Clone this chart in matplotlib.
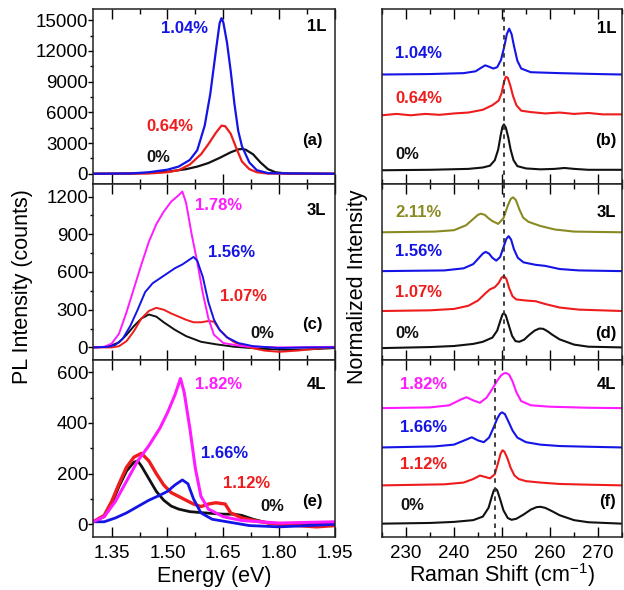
import numpy as np
import matplotlib
matplotlib.use('Agg')
import matplotlib.pyplot as plt
from matplotlib.ticker import MultipleLocator

plt.rcParams['font.family'] = ['Liberation Sans', 'DejaVu Sans']

BLUE = '#1414e6'
RED = '#ee1c1c'
BLACK = '#111111'
MAG = '#ff1aff'
OLIVE = '#8a8a22'

# ---------------- PL data (energy eV, counts) ----------------
# (a) 1L
a0_e = [1.30, 1.40, 1.45, 1.50, 1.55, 1.58, 1.61, 1.64, 1.67, 1.69, 1.70, 1.71, 1.73, 1.75, 1.77, 1.79, 1.82, 1.95]
a0_i = [0, 20, 80, 200, 450, 700, 1050, 1550, 2100, 2380, 2420, 2350, 1900, 1100, 450, 150, 20, 0]
a1_e = [1.30, 1.45, 1.50, 1.53, 1.56, 1.59, 1.61, 1.63, 1.645, 1.655, 1.67, 1.685, 1.70, 1.72, 1.74, 1.77, 1.95]
a1_i = [0, 30, 150, 350, 900, 1900, 2900, 4000, 4700, 4650, 3900, 2500, 1200, 450, 150, 20, 0]
a2_e = [1.30, 1.40, 1.45, 1.50, 1.53, 1.56, 1.58, 1.60, 1.615, 1.63, 1.64, 1.645, 1.65, 1.66, 1.67,
        1.68, 1.69, 1.70, 1.72, 1.74, 1.77, 1.95]
a2_i = [0, 30, 150, 400, 700, 1350, 2300, 4700, 7800, 12000, 14700, 15200, 14800, 12800, 10000,
        6800, 4200, 2700, 1100, 350, 60, 0]

# (c) 3L
c0_e = [1.30, 1.34, 1.37, 1.39, 1.41, 1.43, 1.45, 1.47, 1.49, 1.52, 1.55, 1.59, 1.63, 1.68, 1.75, 1.82, 1.88, 1.95]
c0_i = [0, 5, 40, 100, 170, 230, 262, 245, 200, 140, 90, 45, 25, 5, -10, -20, -15, -5]
c1_e = [1.30, 1.35, 1.37, 1.39, 1.41, 1.43, 1.45, 1.47, 1.49, 1.51, 1.53, 1.55, 1.57, 1.59, 1.61,
        1.625, 1.64, 1.66, 1.68, 1.72, 1.76, 1.80, 1.85, 1.90, 1.95]
c1_i = [0, 0, 10, 50, 130, 230, 290, 315, 300, 270, 245, 220, 200, 200, 210,
        205, 140, 80, 40, 0, -25, -35, -25, -10, 0]
c2_e = [1.30, 1.34, 1.36, 1.38, 1.40, 1.42, 1.44, 1.46, 1.48, 1.50, 1.52, 1.54, 1.56, 1.57, 1.58,
        1.595, 1.61, 1.625, 1.64, 1.66, 1.69, 1.73, 1.80, 1.88, 1.95]
c2_i = [0, 5, 20, 70, 170, 300, 440, 510, 550, 590, 630, 660, 700, 720, 690,
        560, 360, 220, 140, 80, 35, 10, -5, 0, 0]
c3_e = [1.30, 1.33, 1.35, 1.37, 1.39, 1.41, 1.43, 1.45, 1.47, 1.49, 1.51, 1.53, 1.54, 1.55, 1.565,
        1.58, 1.595, 1.61, 1.625, 1.65, 1.70, 1.80, 1.95]
c3_i = [0, 5, 30, 110, 280, 470, 660, 840, 980, 1080, 1160, 1210, 1240, 1150, 900,
        680, 430, 230, 100, 35, 10, 0, 5]

# (e) 4L
e0_e = [1.30, 1.33, 1.35, 1.37, 1.39, 1.41, 1.42, 1.43, 1.45, 1.47, 1.49, 1.51, 1.53, 1.56, 1.60,
        1.65, 1.68, 1.70, 1.73, 1.77, 1.85, 1.95]
e0_i = [10, 30, 80, 150, 210, 245, 250, 230, 180, 130, 95, 72, 60, 50, 45,
        40, 40, 35, 20, 5, 0, 0]
e1_e = [1.30, 1.33, 1.35, 1.37, 1.39, 1.41, 1.43, 1.45, 1.47, 1.49, 1.51, 1.53, 1.55, 1.57, 1.59,
        1.61, 1.63, 1.655, 1.67, 1.70, 1.75, 1.80, 1.90, 1.95]
e1_i = [10, 35, 90, 160, 225, 265, 280, 250, 200, 155, 125, 110, 95, 80, 70,
        80, 85, 80, 45, 25, 10, 0, -10, -5]
e2_e = [1.30, 1.33, 1.36, 1.39, 1.42, 1.45, 1.48, 1.50, 1.52, 1.54, 1.555, 1.57, 1.59, 1.62, 1.66,
        1.72, 1.80, 1.88, 1.95]
e2_i = [10, 10, 25, 45, 70, 95, 115, 130, 155, 175, 160, 100, 45, 20, 10,
        -5, -10, -5, 0]
e3_e = [1.30, 1.33, 1.36, 1.39, 1.42, 1.45, 1.48, 1.50, 1.52, 1.535, 1.545, 1.56, 1.575, 1.59, 1.61,
        1.65, 1.70, 1.80, 1.95]
e3_i = [10, 30, 90, 170, 250, 310, 380, 440, 510, 575, 520, 380, 220, 110, 60,
        30, 15, 5, 10]

# ---------------- Raman data (shift cm-1, normalized) ----------------
b0_x = [225, 235, 243, 246, 247.5, 248.5, 249.2, 249.7, 250.1, 250.4, 250.8, 251.3, 251.8, 252.4,
        253.2, 255, 258, 261, 263, 265, 268, 275]
b0_y = [0, 0.01, 0.03, 0.06, 0.10, 0.22, 0.45, 0.75, 0.95, 1.0, 0.93, 0.72, 0.45, 0.22,
        0.09, 0.04, 0.02, 0.03, 0.05, 0.03, 0.01, 0.01]
b1_x = [225, 228, 231, 234, 237, 240, 243, 246, 248, 249.3, 249.9, 250.4, 250.8, 251.2, 251.7,
        252.3, 253, 254, 256, 259, 262, 265, 268, 271, 275]
b1_y = [0, 0.03, 0.0, 0.03, 0.01, 0.04, 0.06, 0.12, 0.22, 0.32, 0.48, 0.72, 0.84, 0.82, 0.66,
        0.42, 0.22, 0.10, 0.07, 0.04, 0.06, 0.03, 0.05, 0.02, 0.02]
b2_x = [225, 235, 242, 244.5, 245.7, 246.5, 247.3, 248.2, 249, 249.8, 250.5, 251, 251.5, 252,
        252.5, 253.2, 254, 256, 262, 270, 275]
b2_y = [0, 0.01, 0.03, 0.07, 0.15, 0.20, 0.17, 0.13, 0.16, 0.32, 0.62, 0.88, 1.0, 0.88,
        0.62, 0.30, 0.13, 0.05, 0.03, 0.01, 0.0]
b_off = [0, 1.2, 2.09]

d0_x = [225, 235, 240, 244, 246, 248, 249, 249.7, 250.1, 250.4, 250.8, 251.4, 252.1, 252.8, 253.6,
        254.6, 255.7, 256.8, 257.8, 258.6, 259.5, 260.5, 262, 265, 268, 275]
d0_y = [0, 0.03, 0.06, 0.12, 0.18, 0.30, 0.50, 0.80, 0.96, 1.0, 0.93, 0.66, 0.35, 0.20, 0.18,
        0.24, 0.38, 0.50, 0.56, 0.55, 0.48, 0.38, 0.25, 0.10, 0.04, 0.02]
d1_x = [225, 235, 240, 243, 245, 246.5, 247.5, 248.5, 249.3, 249.9, 250.4, 250.9, 251.5, 252.2,
        253, 255, 257, 259, 262, 266, 275]
d1_y = [0, 0.02, 0.06, 0.15, 0.30, 0.50, 0.62, 0.68, 0.80, 0.95, 1.0, 0.92, 0.65, 0.42,
        0.33, 0.30, 0.28, 0.20, 0.10, 0.04, 0.0]
d2_x = [225, 238, 242, 244, 245.2, 246, 246.6, 247.3, 248, 248.8, 249.6, 250.3, 250.9, 251.4,
        251.9, 252.5, 253.3, 254.5, 257, 259, 262, 266, 275]
d2_y = [0, 0.02, 0.08, 0.20, 0.38, 0.50, 0.55, 0.50, 0.38, 0.30, 0.40, 0.68, 0.92, 1.0,
        0.90, 0.62, 0.38, 0.25, 0.18, 0.15, 0.06, 0.02, 0.0]
d3_x = [225, 236, 240, 242.5, 244, 245, 245.6, 246.4, 247.2, 248, 249.2, 250.3, 251.2, 251.8,
        252.3, 252.9, 253.6, 254.4, 255.5, 258, 261, 265, 275]
d3_y = [0, 0.02, 0.06, 0.20, 0.38, 0.50, 0.53, 0.50, 0.40, 0.32, 0.24, 0.40, 0.76, 0.95,
        1.0, 0.92, 0.66, 0.42, 0.30, 0.18, 0.08, 0.02, 0.0]
d_off = [0, 1.06, 2.2, 3.31]

f0_x = [225, 235, 240, 244, 246, 247.2, 247.9, 248.3, 248.6, 249, 249.6, 250.3, 251.2, 252, 253,
        254.5, 256, 257.2, 258, 259, 260.5, 262, 265, 268, 275]
f0_y = [0, 0.02, 0.05, 0.10, 0.20, 0.45, 0.78, 0.95, 1.0, 0.95, 0.70, 0.38, 0.16, 0.11, 0.14,
        0.26, 0.40, 0.47, 0.48, 0.45, 0.35, 0.24, 0.10, 0.04, 0.0]
f1_x = [225, 238, 242, 244, 245.4, 246.5, 247.5, 248.5, 249.2, 249.7, 250.1, 250.5, 251.1, 251.8,
        252.6, 253.5, 255, 258, 262, 268, 275]
f1_y = [0, 0.03, 0.08, 0.18, 0.28, 0.24, 0.20, 0.32, 0.65, 0.90, 1.0, 0.96, 0.78, 0.50,
        0.28, 0.18, 0.12, 0.08, 0.04, 0.02, 0.0]
f2_x = [225, 236, 240, 242.5, 243.7, 245, 246.2, 247.3, 248.2, 249, 249.6, 250, 250.6, 251.3,
        252.2, 253.2, 255, 258, 262, 268, 275]
f2_y = [0, 0.03, 0.08, 0.22, 0.29, 0.20, 0.15, 0.28, 0.55, 0.82, 0.96, 1.0, 0.95, 0.75,
        0.48, 0.28, 0.15, 0.08, 0.04, 0.02, 0.0]
f3_x = [225, 235, 239, 241.5, 242.6, 244, 245.4, 246.8, 248, 249, 249.8, 250.4, 250.9, 251.5,
        252.2, 253, 254, 256, 260, 268, 275]
f3_y = [0, 0.02, 0.08, 0.25, 0.31, 0.22, 0.15, 0.30, 0.55, 0.78, 0.93, 0.99, 1.0, 0.95,
        0.76, 0.45, 0.20, 0.08, 0.04, 0.01, 0.0]
f_off = [0, 1.09, 2.17, 3.29]

W, H = 624, 590
fig = plt.figure(figsize=(W / 100, H / 100), dpi=100)


def px_axes(x0, y0, x1, y1):
    return fig.add_axes([x0 / W, 1 - y1 / H, (x1 - x0) / W, (y1 - y0) / H])


rows = [(9, 184), (184, 360), (360, 537)]
axL = [px_axes(93, r0, 335, r1) for r0, r1 in rows]
axR = [px_axes(382, r0, 622, r1) for r0, r1 in rows]

lab = dict(fontsize=12, fontweight='bold')

# ---- left panels ----
ax = axL[0]
ax.plot(a0_e, a0_i, color=BLACK, lw=1.6)
ax.plot(a1_e, a1_i, color=RED, lw=1.6)
ax.plot(a2_e, a2_i, color=BLUE, lw=1.6)
ax.set_ylim(-1000, 16100)
ax.yaxis.set_major_locator(MultipleLocator(3000))
ax.yaxis.set_minor_locator(MultipleLocator(1500))
ax.text(0.38, 0.886, '1.04%', color=BLUE, transform=ax.transAxes, ha='center', va='center', **lab)
ax.text(0.318, 0.331, '0.64%', color=RED, transform=ax.transAxes, ha='center', va='center', **lab)
ax.text(0.268, 0.154, '0%', color=BLACK, transform=ax.transAxes, ha='center', va='center', **lab)
ax.text(0.965, 0.90, '1L', transform=ax.transAxes, ha='right', va='center', **lab)
ax.text(0.95, 0.25, '(a)', transform=ax.transAxes, ha='right', va='center', **lab)

ax = axL[1]
ax.plot(c0_e, c0_i, color=BLACK, lw=1.4)
ax.plot(c1_e, c1_i, color=RED, lw=1.4)
ax.plot(c3_e, c3_i, color=MAG, lw=1.4)
ax.plot(c2_e, c2_i, color=BLUE, lw=1.4)
ax.set_ylim(-100, 1300)
ax.yaxis.set_major_locator(MultipleLocator(300))
ax.yaxis.set_minor_locator(MultipleLocator(150))
ax.text(0.517, 0.88, '1.78%', color=MAG, transform=ax.transAxes, ha='center', va='center', **lab)
ax.text(0.574, 0.608, '1.56%', color=BLUE, transform=ax.transAxes, ha='center', va='center', **lab)
ax.text(0.62, 0.358, '1.07%', color=RED, transform=ax.transAxes, ha='center', va='center', **lab)
ax.text(0.70, 0.153, '0%', color=BLACK, transform=ax.transAxes, ha='center', va='center', **lab)
ax.text(0.965, 0.85, '3L', transform=ax.transAxes, ha='right', va='center', **lab)
ax.text(0.95, 0.20, '(c)', transform=ax.transAxes, ha='right', va='center', **lab)

ax = axL[2]
ax.plot(e0_e, e0_i, color=BLACK, lw=2.0)
ax.plot(e1_e, e1_i, color=RED, lw=2.4)
ax.plot(e2_e, e2_i, color=BLUE, lw=2.0)
ax.plot(e3_e, e3_i, color=MAG, lw=2.2)
ax.set_ylim(-50, 648)
ax.yaxis.set_major_locator(MultipleLocator(200))
ax.yaxis.set_minor_locator(MultipleLocator(100))
ax.text(0.517, 0.86, '1.82%', color=MAG, transform=ax.transAxes, ha='center', va='center', **lab)
ax.text(0.545, 0.47, '1.66%', color=BLUE, transform=ax.transAxes, ha='center', va='center', **lab)
ax.text(0.633, 0.305, '1.12%', color=RED, transform=ax.transAxes, ha='center', va='center', **lab)
ax.text(0.74, 0.17, '0%', color=BLACK, transform=ax.transAxes, ha='center', va='center', **lab)
ax.text(0.965, 0.86, '4L', transform=ax.transAxes, ha='right', va='center', **lab)
ax.text(0.95, 0.20, '(e)', transform=ax.transAxes, ha='right', va='center', **lab)

for i, ax in enumerate(axL):
    ax.set_xlim(1.30, 1.95)
    ax.set_xticks([1.35, 1.50, 1.65, 1.80, 1.95])
    ax.xaxis.set_minor_locator(MultipleLocator(0.075))
    ax.tick_params(axis='x', which='both', direction='in', top=True, bottom=True)
    ax.tick_params(axis='x', which='major', length=7, width=1)
    ax.tick_params(axis='x', which='minor', length=3.5, width=1)
    ax.tick_params(axis='y', which='major', direction='out', length=3.5, width=1, pad=0, labelsize=13.5)
    ax.tick_params(axis='y', which='minor', direction='out', length=2, width=1)
    if i < 2:
        ax.tick_params(axis='x', labelbottom=False)
    else:
        ax.set_xticklabels(['1.35', '1.50', '1.65', '1.80', '1.95'])
        ax.tick_params(axis='x', labelsize=13.5, pad=6)

# ---- right panels ----
ax = axR[0]
for xs, ys, off, c in [(b0_x, b0_y, b_off[0], BLACK), (b1_x, b1_y, b_off[1], RED),
                       (b2_x, b2_y, b_off[2], BLUE)]:
    ax.plot(xs, np.array(ys) + off, color=c, lw=1.5)
ax.set_ylim(-0.30, 3.52)
ax.axvline(250.4, color='#333333', lw=1.3, ls=(0, (2.5, 2.5)))
ax.text(0.054, 0.743, '1.04%', color=BLUE, transform=ax.transAxes, ha='left', va='center', **lab)
ax.text(0.054, 0.49, '0.64%', color=RED, transform=ax.transAxes, ha='left', va='center', **lab)
ax.text(0.054, 0.171, '0%', color=BLACK, transform=ax.transAxes, ha='left', va='center', **lab)
ax.text(0.975, 0.89, '1L', transform=ax.transAxes, ha='right', va='center', **lab)
ax.text(0.975, 0.246, '(b)', transform=ax.transAxes, ha='right', va='center', **lab)

ax = axR[1]
for xs, ys, off, c in [(d0_x, d0_y, d_off[0], BLACK), (d1_x, d1_y, d_off[1], RED),
                       (d2_x, d2_y, d_off[2], BLUE), (d3_x, d3_y, d_off[3], OLIVE)]:
    ax.plot(xs, np.array(ys) + off, color=c, lw=1.5)
ax.set_ylim(-0.34, 4.69)
ax.axvline(250.4, color='#333333', lw=1.3, ls=(0, (2.5, 2.5)))
ax.text(0.054, 0.84, '2.11%', color=OLIVE, transform=ax.transAxes, ha='left', va='center', **lab)
ax.text(0.054, 0.614, '1.56%', color=BLUE, transform=ax.transAxes, ha='left', va='center', **lab)
ax.text(0.054, 0.386, '1.07%', color=RED, transform=ax.transAxes, ha='left', va='center', **lab)
ax.text(0.054, 0.153, '0%', color=BLACK, transform=ax.transAxes, ha='left', va='center', **lab)
ax.text(0.975, 0.84, '3L', transform=ax.transAxes, ha='right', va='center', **lab)
ax.text(0.975, 0.153, '(d)', transform=ax.transAxes, ha='right', va='center', **lab)

ax = axR[2]
for xs, ys, off, c in [(f0_x, f0_y, f_off[0], BLACK), (f1_x, f1_y, f_off[1], RED),
                       (f2_x, f2_y, f_off[2], BLUE), (f3_x, f3_y, f_off[3], MAG)]:
    ax.plot(xs, np.array(ys) + off, color=c, lw=1.5)
ax.set_ylim(-0.38, 4.66)
ax.axvline(248.6, color='#333333', lw=1.3, ls=(0, (2.5, 2.5)))
ax.text(0.075, 0.86, '1.82%', color=MAG, transform=ax.transAxes, ha='left', va='center', **lab)
ax.text(0.075, 0.62, '1.66%', color=BLUE, transform=ax.transAxes, ha='left', va='center', **lab)
ax.text(0.075, 0.41, '1.12%', color=RED, transform=ax.transAxes, ha='left', va='center', **lab)
ax.text(0.075, 0.18, '0%', color=BLACK, transform=ax.transAxes, ha='left', va='center', **lab)
ax.text(0.975, 0.86, '4L', transform=ax.transAxes, ha='right', va='center', **lab)
ax.text(0.975, 0.20, '(f)', transform=ax.transAxes, ha='right', va='center', **lab)

for i, ax in enumerate(axR):
    ax.set_xlim(225, 275)
    ax.xaxis.set_major_locator(MultipleLocator(10))
    ax.xaxis.set_minor_locator(MultipleLocator(5))
    ax.set_yticks([])
    ax.tick_params(axis='x', which='both', direction='in', top=True, bottom=True)
    ax.tick_params(axis='x', which='major', length=7, width=1)
    ax.tick_params(axis='x', which='minor', length=3.5, width=1)
    if i < 2:
        ax.tick_params(axis='x', labelbottom=False)
    else:
        ax.set_xticks([230, 240, 250, 260, 270])
        ax.tick_params(axis='x', labelsize=13.5, pad=6)

for ax in axL + axR:
    for s in ax.spines.values():
        s.set_linewidth(1.1)
        s.set_color('#222222')

fig.text(23 / W, 1 - 287 / H, 'PL Intensity (counts)', rotation=90, fontsize=15.5,
         ha='center', va='center')
fig.text(358 / W, 1 - 287 / H, 'Normalized Intensity', rotation=90, fontsize=15.5,
         ha='center', va='center')
fig.text(214 / W, 1 - 582 / H, 'Energy (eV)', fontsize=15.5, ha='center', va='baseline')
fig.text(502 / W, 1 - 582 / H, 'Raman Shift (cm$^{\\mathregular{-1}}$)', fontsize=15.5,
         ha='center', va='baseline')

fig.savefig('out.png', dpi=100)
